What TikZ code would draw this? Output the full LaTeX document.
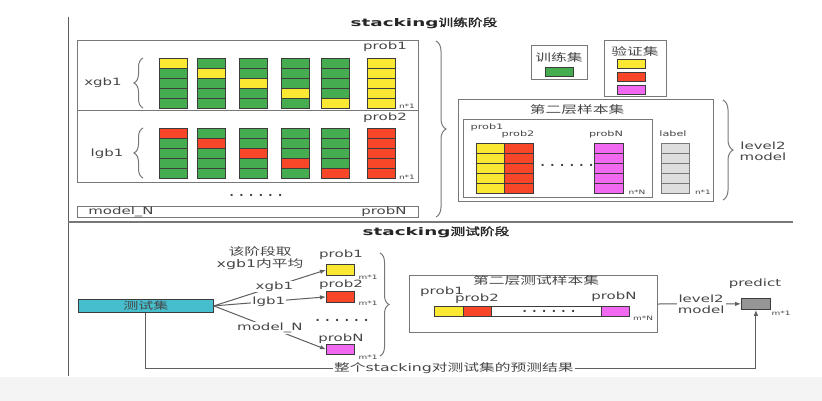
\documentclass[tikz,border=0pt]{standalone}
\usepackage{fontspec}
\usetikzlibrary{arrows.meta,decorations.pathreplacing}
\newfontfamily\lat[FakeStretch=1.5]{DejaVu Sans}
\newfontfamily\latb[FakeStretch=1.75]{DejaVu Sans Bold}
\newfontfamily\cjk[FakeStretch=1.5]{Noto Sans CJK SC}
\newfontfamily\cjkb[FakeStretch=1.4,FakeBold=2]{Noto Sans CJK SC}
\newfontfamily\dotsf[LetterSpace=50]{DejaVu Sans Bold}
\definecolor{cg}{RGB}{70,172,80}
\definecolor{cy}{RGB}{250,232,50}
\definecolor{cr}{RGB}{248,70,40}
\definecolor{cm}{RGB}{240,105,240}
\definecolor{cl}{RGB}{222,222,222}
\definecolor{cp}{RGB}{150,150,150}
\definecolor{ct}{RGB}{70,190,205}
\definecolor{ln}{RGB}{95,95,95}
\definecolor{fr}{RGB}{120,120,120}
\definecolor{cellb}{RGB}{60,60,60}
\definecolor{tx}{RGB}{70,70,70}
\definecolor{bgb}{RGB}{244,244,244}
\newcommand\mkcolumn[4]{%
  \foreach \r in {1,...,5}{%
    \pgfmathsetmacro\yy{#2+(\r-1)*10}%
    \ifnum\r=#3 \def\cc{#4}\else\ifnum#3=6 \def\cc{#4}\else\def\cc{cg}\fi\fi
    \filldraw[fill=\cc, draw=cellb, line width=0.7pt] (#1,\yy) rectangle ++(28,10);
  }}
\begin{document}
\begin{tikzpicture}[x=1pt,y=-1pt,
  lbl/.style={font=\lat\fontsize{10}{11}\selectfont, text=tx, inner sep=0pt},
  slbl/.style={font=\lat\fontsize{7.5}{8}\selectfont, text=tx, inner sep=0pt},
  tinylbl/.style={font=\lat\fontsize{6}{6}\selectfont, text=tx, inner sep=0pt},
  clbl/.style={font=\cjk\fontsize{10.5}{11.5}\selectfont, text=tx, inner sep=0pt},
  frame/.style={draw=fr, line width=1pt},
  conn/.style={draw=ln, line width=1pt},
  arr/.style={conn, -{Latex[length=6pt,width=4.5pt]}},
  brc/.style={draw=fr, line width=1pt, decorate, decoration={brace, amplitude=#1}},
  onl/.style={lbl, fill=white, inner sep=1pt},
  dotsn/.style={font=\dotsf\fontsize{11}{11}\selectfont, text=black!75, inner sep=0pt},
  rbox/.style={draw=cellb, line width=0.8pt, inner sep=0pt, anchor=north west},
]
\useasboundingbox (0,0) rectangle (822,401);
\fill[white] (0,0) rectangle (822,401);
\fill[bgb] (0,377) rectangle (822,401);

% outer lines
\draw[draw=ln, line width=1.2pt] (68.5,17) -- (68.5,376);
\draw[draw=fr, line width=1.2pt] (68,222) -- (793,222);

% titles
\node[inner sep=0pt, text=black!85] (t1) at (424,23) {\fontsize{10.5}{12}\selectfont\latb stacking\cjkb 训练阶段};
\node[inner sep=0pt, text=black!85] (t2) at (436,232) {\fontsize{10.5}{12}\selectfont\latb stacking\cjkb 测试阶段};

% ---------- upper: level-1 models ----------
\draw[frame] (77,41) rectangle (418,111);
\draw[frame] (77,111) rectangle (418,182);
\draw[frame] (77,206) rectangle (418,217);

\node[lbl] (xl) at (103,83) {xgb1};
\node[lbl] (ll) at (107,154) {lgb1};
\node[lbl] (ml) at (121,212) {model\_N};
\node[lbl] (pb1) at (385,47) {prob1};
\node[lbl] (pb2) at (385,118) {prob2};
\node[lbl] (pbN) at (384,212) {probN};
\node[tinylbl] (n1a) at (407,106) {n*1};
\node[tinylbl] (n1b) at (407,177) {n*1};
\node[dotsn] (d1) at (256,195) {......};

\draw[brc=9] (143,108) -- (143,58);
\draw[brc=9] (143,178) -- (143,128);

\mkcolumn{159}{58}{1}{cy}
\mkcolumn{197}{58}{2}{cy}
\mkcolumn{239}{58}{3}{cy}
\mkcolumn{281}{58}{4}{cy}
\mkcolumn{321}{58}{5}{cy}
\mkcolumn{367}{58}{6}{cy}

\mkcolumn{159}{128}{1}{cr}
\mkcolumn{197}{128}{2}{cr}
\mkcolumn{239}{128}{3}{cr}
\mkcolumn{281}{128}{4}{cr}
\mkcolumn{321}{128}{5}{cr}
\mkcolumn{367}{128}{6}{cr}

\draw[brc=10] (436,41) -- (436,217);

% legend
\draw[frame] (531,46) rectangle (587,80);
\node[clbl] (lg1) at (559,57) {训练集};
\filldraw[fill=cg, draw=cellb, line width=0.8pt] (545,67) rectangle (573,76);
\draw[frame] (604,41) rectangle (666,97);
\node[clbl] (lg2) at (635,51) {验证集};
\filldraw[fill=cy, draw=cellb, line width=0.8pt] (617,59) rectangle (645,68);
\filldraw[fill=cr, draw=cellb, line width=0.8pt] (617,72) rectangle (645,81);
\filldraw[fill=cm, draw=cellb, line width=0.8pt] (617,85) rectangle (645,94);

% second-layer sample set
\draw[frame] (458,100) rectangle (713,201);
\node[clbl] (s2t) at (577,110) {第二层样本集};
\draw[frame] (463,120) rectangle (652,197);
\node[slbl] (s2p1) at (487,127) {prob1};
\node[slbl] (s2p2) at (518,134) {prob2};
\node[slbl] (s2pN) at (606,134) {probN};
\node[slbl] (s2lb) at (673,134) {label};
\node[tinylbl] (s2nN) at (637,192) {n*N};
\node[tinylbl] (s2n1) at (703,192) {n*1};
\node[dotsn] (d2) at (567,165) {......};
\foreach \r in {0,...,4}{
  \filldraw[fill=cy, draw=cellb, line width=0.7pt] (476,143+\r*10) rectangle ++(28,10);
  \filldraw[fill=cr, draw=cellb, line width=0.7pt] (504,143+\r*10) rectangle ++(29,10);
  \filldraw[fill=cm, draw=cellb, line width=0.7pt] (594,143+\r*10) rectangle ++(29,10);
  \filldraw[fill=cl, draw=fr, line width=0.7pt] (661,143+\r*10) rectangle ++(28,10);
}
\draw[brc=10] (723,100) -- (723,200);
\node[lbl, align=center] (lv1) at (763,151) {level2\\model};

% ---------- lower: test stage ----------
\node[rbox, fill=ct, minimum width=135pt, minimum height=13pt, font=\cjk\fontsize{10}{10}\selectfont, text=tx] (ts) at (78,299) {测试集};

\node[clbl, align=center] (note) at (260,258) {该阶段取\\{\lat xgb1}内平均};

\node[rbox, fill=cy, minimum width=28pt, minimum height=11pt] (p1) at (326,264) {};
\node[rbox, fill=cr, minimum width=28pt, minimum height=11pt] (p2) at (326,291) {};
\node[rbox, fill=cm, minimum width=28pt, minimum height=10pt] (pN) at (326,344) {};
\node[lbl] (p1l) at (341,255) {prob1};
\node[lbl] (p2l) at (341,285) {prob2};
\node[lbl] (pNl) at (341,339) {probN};
\node[tinylbl] (m1a) at (368,277) {m*1};
\node[tinylbl] (m1b) at (368,303) {m*1};
\node[tinylbl] (m1c) at (368,357) {m*1};
\node[dotsn] (d3) at (342,320) {......};

\draw[arr] (ts.east) -- node[onl, pos=0.54] (ax) {xgb1} (p1.west);
\draw[arr] (ts.east) -- node[onl, pos=0.49] (al) {lgb1} (p2.west);
\draw[arr] (ts.east) -- node[onl, pos=0.5] (am) {model\_N} (pN.west);

\draw[brc=9] (380,253) -- (380,356);

% second-layer test sample set
\node[draw=fr, line width=1pt, minimum width=248pt, minimum height=57pt, inner sep=0pt, anchor=north west] (tb) at (409,275) {};
\node[clbl] (tbt) at (536,281) {第二层测试样本集};
\node[lbl] (tp1) at (442,292) {prob1};
\node[lbl] (tp2) at (477,299) {prob2};
\node[lbl] (tpN) at (614,297) {probN};
\filldraw[fill=white, draw=cellb, line width=0.8pt] (434,306) rectangle (629,316);
\filldraw[fill=cy, draw=cellb, line width=0.8pt] (434,306) rectangle (463,316);
\filldraw[fill=cr, draw=cellb, line width=0.8pt] (463,306) rectangle (491,316);
\filldraw[fill=cm, draw=cellb, line width=0.8pt] (601,306) rectangle (629,316);
\node[dotsn] (d4) at (549,311) {......};
\node[tinylbl] (tmN) at (643,318) {m*N};

\node[rbox, fill=cp, minimum width=29pt, minimum height=11pt] (pred) at (741,298) {};
\node[lbl] (predl) at (755,284) {predict};
\node[tinylbl] (pm1) at (781,313) {m*1};
\draw[arr] (tb.east) -- node[onl, align=center, pos=0.52] (lv2) {level2\\model} (pred.west);

\draw[arr] (ts.south) -- (ts.south |- 0,368) -- node[onl, font=\cjk\fontsize{10.5}{11}\selectfont, pos=0.505] (fin) {整个{\lat stacking}对测试集的预测结果} (pred.south |- 0,368) -- (pred.south);
\end{tikzpicture}
\end{document}
